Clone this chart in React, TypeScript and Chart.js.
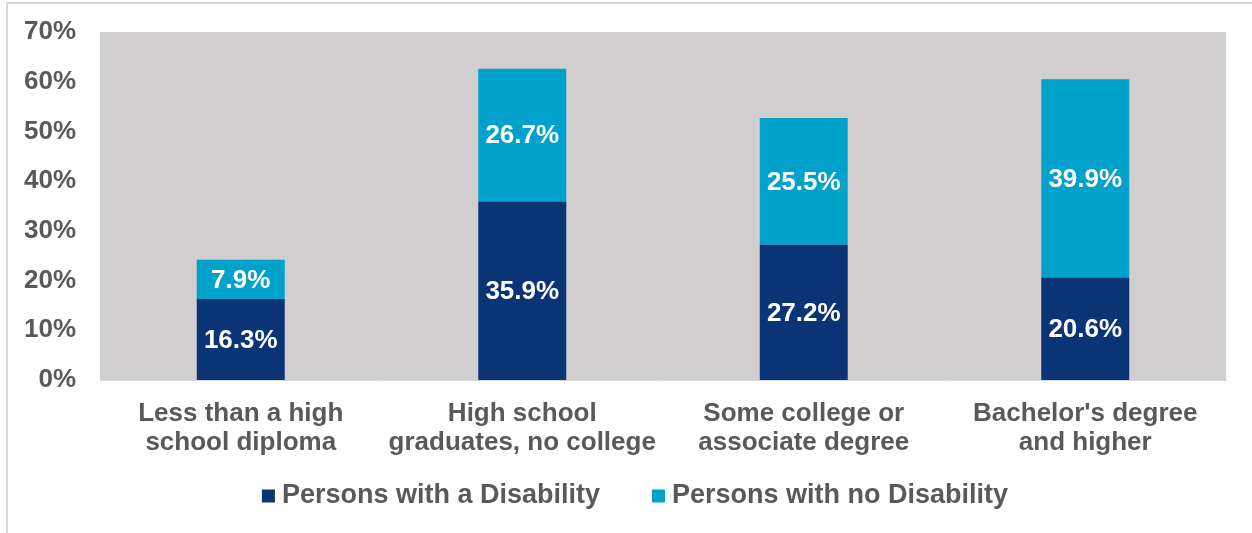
import React, { useEffect, useRef } from "react";
import { Chart, registerables } from "chart.js";

Chart.register(...registerables);

const categories: string[][] = [
  ["Less than a high", "school diploma"],
  ["High school", "graduates, no college"],
  ["Some college or", "associate degree"],
  ["Bachelor's degree", "and higher"],
];
const withDisability: number[] = [16.3, 35.9, 27.2, 20.6];
const noDisability: number[] = [7.9, 26.7, 25.5, 39.9];
const seriesNames: string[] = ["Persons with a Disability", "Persons with no Disability"];
const seriesColors: string[] = ["#0b3477", "#00a2cb"];
const yTicks: number[] = [0, 10, 20, 30, 40, 50, 60, 70];

const FONT = "'Liberation Sans', Arial, sans-serif";
const TEXT_COLOR = "#595959";
const FS = 26;

const bgPlugin = {
  id: "plotBg",
  beforeDraw(chart: any) {
    const { ctx, chartArea } = chart;
    ctx.save();
    ctx.fillStyle = "#d0cece";
    ctx.fillRect(chartArea.left, chartArea.top, chartArea.right - chartArea.left, chartArea.bottom - chartArea.top);
    ctx.restore();
  },
};

const labelPlugin = {
  id: "segLabels",
  afterDatasetsDraw(chart: any) {
    const { ctx } = chart;
    ctx.save();
    ctx.fillStyle = "#ffffff";
    ctx.font = `bold ${FS}px ${FONT}`;
    ctx.textAlign = "center";
    ctx.textBaseline = "middle";
    chart.data.datasets.forEach((ds: any, di: number) => {
      const meta = chart.getDatasetMeta(di);
      meta.data.forEach((el: any, i: number) => {
        const v = ds.data[i];
        const cy = (el.y + el.base) / 2;
        ctx.fillText(v.toFixed(1) + "%", el.x, cy + 1);
      });
    });
    ctx.restore();
  },
};

const legendPlugin = {
  id: "customLegend",
  afterDraw(chart: any) {
    const { ctx } = chart;
    ctx.save();
    ctx.font = `bold ${FS + 1}px ${FONT}`;
    ctx.textBaseline = "middle";
    ctx.textAlign = "left";
    const box = 13;
    const gapBoxText = 7;
    const gapItems = 52;
    const widths = seriesNames.map((n) => ctx.measureText(n).width);
    const total = widths.reduce((a, w) => a + box + gapBoxText + w, 0) + gapItems * (seriesNames.length - 1);
    let x = 635 - total / 2;
    const cy = 496;
    seriesNames.forEach((n, i) => {
      ctx.fillStyle = seriesColors[i];
      ctx.fillRect(x, cy - box / 2, box, box);
      ctx.fillStyle = TEXT_COLOR;
      ctx.fillText(n, x + box + gapBoxText, cy);
      x += box + gapBoxText + widths[i] + gapItems;
    });
    ctx.restore();
  },
};

export default function App() {
  const ref = useRef<HTMLCanvasElement | null>(null);
  useEffect(() => {
    if (!ref.current) return;
    const chart = new Chart(ref.current, {
      type: "bar",
      data: {
        labels: categories,
        datasets: [
          { label: seriesNames[0], data: withDisability, backgroundColor: seriesColors[0], barPercentage: 0.3125, categoryPercentage: 1 },
          { label: seriesNames[1], data: noDisability, backgroundColor: seriesColors[1], barPercentage: 0.3125, categoryPercentage: 1 },
        ],
      },
      options: {
        animation: false,
        responsive: false,
        maintainAspectRatio: false,
        layout: { padding: { left: 0, right: 26, top: 32, bottom: 0 } },
        plugins: { legend: { display: false }, tooltip: { enabled: false } },
        scales: {
          x: {
            stacked: true,
            grid: { display: false, drawTicks: false },
            border: { display: true, color: "#d9d9d9", width: 1 },
            ticks: { color: TEXT_COLOR, font: { family: FONT, size: FS, weight: "bold", lineHeight: 1.12 }, padding: 19, maxRotation: 0, autoSkip: false },
            afterFit: (s: any) => { s.height = 153; },
          },
          y: {
            stacked: true,
            min: 0,
            max: 70,
            grid: { display: false, drawTicks: true, tickLength: 22 },
            border: { display: false },
            afterBuildTicks: (s: any) => { s.ticks = yTicks.map((v) => ({ value: v })); },
            ticks: { color: TEXT_COLOR, font: { family: FONT, size: FS, weight: "bold" }, padding: 2, callback: (v: any) => v + "%" },
            afterFit: (s: any) => { s.width = 100; },
          },
        },
      },
      plugins: [bgPlugin, labelPlugin, legendPlugin],
    } as any);
    return () => chart.destroy();
  }, []);
  return (
    <div style={{ position: "fixed", left: 0, top: 0, width: 1252, height: 533, background: "#fff" }}>
      <div style={{ position: "absolute", left: 6, top: 2, right: -10, bottom: -10, borderTop: "2px solid #d9d9d9", borderLeft: "2px solid #d9d9d9" }} />
      <canvas ref={ref} width={1252} height={533} style={{ position: "absolute", left: 0, top: 0 }} />
    </div>
  );
}
